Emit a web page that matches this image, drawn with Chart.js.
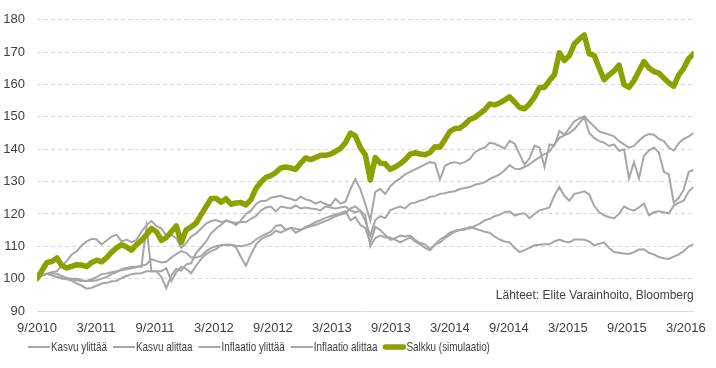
<!DOCTYPE html>
<html>
<head>
<meta charset="utf-8">
<script src="https://cdn.jsdelivr.net/npm/chart.js@4/dist/chart.umd.min.js"></script>
<style>
  html, body { margin: 0; padding: 0; background: #fff; }
</style>
</head>
<body>
<canvas id="myChart" width="716" height="368"></canvas>
<script>
// samples are about 2.2 weeks apart, x is in months from 9/2010
const STEP = 0.506;

const tickMonths = [0, 6, 12, 18, 24, 30, 36, 42, 48, 54, 60, 66];
const tickLabels = ['9/2010', '3/2011', '9/2011', '3/2012', '9/2012', '3/2013',
    '9/2013', '3/2014', '9/2014', '3/2015', '9/2015', '3/2016'];

const seriesNames = ['Kasvu ylittää', 'Kasvu alittaa', 'Inflaatio ylittää', 'Inflaatio alittaa', 'Salkku (simulaatio)'];

const kasvuYlittaa = [
    100, 101, 101.5, 102, 102.3, 104, 105.5, 107.5, 108.5, 110.3,
    111.5, 112.3, 112.1, 110.6, 111.8, 113, 113.6, 111.5, 112.1, 111.2,
    112, 114.5, 116.5, 117.8, 116.3, 115.5, 113.3, 113.5, 112.5, 109.5,
    111, 113, 114, 115.5, 117, 117.8, 118.1, 117.5, 117.8, 117.5,
    116.6, 118, 120, 121, 123, 124, 124, 125, 125.3, 125.6,
    125, 124.7, 124.1, 125.3, 124.5, 124.1, 123.2, 123.8, 123, 122.6,
    124.7, 123.2, 123.8, 127.7, 130.7, 127.7, 123, 118, 126.8, 127.7,
    126.2, 128.5, 130, 131, 132.2, 133, 133.8, 134.5, 135.3, 136,
    135.7, 130.7, 134.8, 135.7, 136, 135.5, 136, 137, 139, 140,
    140.5, 142, 141.7, 141, 140.2, 142.6, 141.7, 138.5, 135.3, 137.2,
    141.1, 140.5, 134.5, 141.5, 141.1, 145.6, 144.5, 146.5, 148.6, 149.5,
    150.1, 148.5, 147, 145.5, 145, 144.5, 144, 142.5, 141.5, 140.5,
    141, 142.6, 144, 144.7, 144.5, 143.2, 142.5, 140.5, 139.6, 141.9,
    143.2, 144, 145
];

const kasvuAlittaa = [
    100, 101, 101.5, 101.7, 101.5, 100.8, 100.2, 100, 100, 99.5,
    99.3, 99.3, 99.5, 100, 100.5, 101.4, 102, 102.9, 103.3, 103.7,
    103.7, 103.7, 116, 102.3, 102.3, 100.5, 97, 101, 103, 102.5,
    104.4, 104.8, 108, 109.7, 111.5, 114, 115.5, 116.6, 118, 117.5,
    117.2, 117.5, 117.5, 118.5, 119.3, 121, 122, 122.3, 120.8, 122.3,
    122, 121.7, 122.6, 121.7, 122, 121.7, 121.5, 121.1, 122.3, 122,
    121.7, 122, 122.3, 121.1, 120.5, 121, 117.8, 113.3, 118.1, 119.3,
    118.7, 121.1, 121.8, 122.3, 121.7, 123.2, 123.5, 124.1, 124.5, 125.3,
    125.5, 126.2, 126.4, 126.8, 127, 127.7, 128, 128.3, 129, 129.3,
    129.8, 130.8, 131.5, 132.2, 133.5, 135.1, 134, 133.8, 134.5, 135.3,
    136.5, 137.5, 138.5, 139.2, 141.5, 143.5, 144.3, 145, 146.2, 148,
    150, 145, 143.5, 142.5, 142, 141, 141.5, 139.5, 140, 131,
    136, 131, 138, 139.6, 140.5, 139, 133, 132.2, 123.5, 125,
    127.5, 133, 133.6
];

const inflaatioYlittaa = [
    100, 101, 101.5, 101, 100.5, 100, 100, 99.7, 99.5, 99.3,
    99.3, 99.8, 100.5, 101.4, 101.6, 102, 102.3, 102.6, 102.9, 103.2,
    103.5, 104, 104.4, 106, 105.5, 105, 105.2, 106.5, 107.6, 108.5,
    108, 106.5, 106.5, 107, 108.5, 109.5, 110, 110.3, 110.5, 110.5,
    110.2, 110, 110.3, 110.8, 112.1, 113, 113.8, 114.5, 116.3, 116.6,
    115.1, 115.7, 115.4, 115.1, 116, 116.6, 117.5, 118.1, 118.8, 119.3,
    119.8, 120.2, 120.8, 118, 119, 116.6, 115.7, 111, 116, 115,
    113.5, 112, 112.5, 113.3, 113, 113.3, 112, 111, 110.6, 109.1,
    110.5, 112.1, 113, 114.2, 114.8, 115.1, 115.5, 115.5, 116.3, 117,
    118, 118.5, 119.3, 119.8, 120.5, 120.8, 119.5, 120, 120.2, 118.7,
    120, 121.1, 121.5, 122, 125.6, 128.3, 125.6, 124.1, 126.2, 126.5,
    127, 126, 122.5, 120.5, 119.6, 119, 118.7, 120, 122.3, 121.5,
    121, 122, 123.2, 119.6, 120.5, 120.8, 120.5, 120.2, 122.6, 123.5,
    124.1, 127, 128.3
];

const inflaatioAlittaa = [
    100, 101.2, 101.5, 101, 100.5, 100.2, 99.8, 99.3, 98.5, 97.8,
    96.9, 97.2, 97.8, 98.5, 98.7, 99.2, 99.3, 100.2, 100.8, 101.4,
    101.6, 101.7, 102.3, 102.3, 102.3, 102.3, 103.2, 99.3, 102, 103.7,
    103, 101.7, 104, 106.1, 107.6, 108.5, 109.1, 110.3, 110.5, 110.5,
    109.7, 106.7, 104, 107.5, 110.5, 112.1, 113, 113.5, 114.8, 114.2,
    115, 115.7, 114.2, 115, 115.7, 116.2, 116.6, 117.2, 117.8, 118.5,
    119.3, 119.8, 120.2, 121.7, 122.3, 121, 119.6, 110, 112.5, 113.3,
    112.7, 112.7, 112, 111.2, 112, 112.7, 111.5, 110.6, 109.5, 108.8,
    110.5, 111.2, 112.5, 113.6, 114.5, 115, 115.1, 116, 115.5, 115,
    114.5, 114.2, 113, 112.1, 111.5, 111.2, 109.5, 108.2, 108.8, 109.5,
    110.3, 110.5, 110.6, 110.6, 111.5, 112.1, 111.5, 111.2, 112.1, 112.1,
    112, 111.5, 110.3, 110.8, 111.2, 109.5, 108.2, 108, 107.8, 107.6,
    108.2, 109, 109.1, 108, 107.5, 106.7, 106.3, 106.1, 106.8, 107.5,
    108.5, 110, 110.6
];

const salkku = [
    100, 102.5, 105, 105.3, 106.4, 104, 103.3, 103.8, 104.3, 104.2,
    103.7, 105, 105.7, 105.2, 106.5, 108.2, 109.5, 110.5, 109.8, 108.8,
    110.5, 111.8, 113.5, 115.5, 114.5, 111.8, 112.7, 114.5, 116.3, 111.2,
    115.1, 116, 117.2, 119.8, 122.3, 124.8, 124.8, 123.6, 124.7, 123,
    123.4, 123.5, 122.8, 124.4, 127.8, 129.8, 131.3, 131.8, 132.8, 134.2,
    134.5, 134.2, 133.8, 135.7, 137.3, 136.8, 137.4, 138.1, 138.1, 138.5,
    139.3, 140.2, 142, 145, 144.1, 140.5, 138.3, 130.5, 137.4, 135.7,
    135.5, 133.8, 134.5, 135.5, 136.8, 138.5, 138.9, 138.5, 138.3, 139,
    140.8, 140.6, 143, 145.5, 146.4, 146.5, 147.7, 149.2, 149.8, 151,
    152.2, 154, 153.7, 154.3, 155.2, 156.2, 154.6, 152.9, 152.5, 154,
    156.1, 159.1, 159.1, 161.2, 163, 169.8, 167.4, 168.9, 172.5, 174,
    175.3, 169.5, 169, 165.1, 161.5, 163, 164.2, 166, 160, 159.1,
    161.2, 164.2, 167.1, 165.1, 164, 163.5, 162, 160.5, 159.5, 163,
    165, 168, 169.5
];

const sourceText = 'Lähteet: Elite Varainhoito, Bloomberg';

const grey = '#a6a6a6';
const green = '#8ca000';
const textColor = '#404040';
const baseFont = '"Liberation Sans", Arial, sans-serif';

function toPoints(values) {
    return values.map((v, i) => ({ x: i * STEP, y: v }));
}

function greyLine(label, values) {
    return {
        label: label,
        data: toPoints(values),
        borderColor: grey,
        backgroundColor: grey,
        borderWidth: 2,
        pointRadius: 0,
        tension: 0,
        order: 1
    };
}

// source note inside the plot, bottom right
const sourceNote = {
    id: 'sourceNote',
    afterDatasetsDraw(chart) {
        const ctx = chart.ctx;
        ctx.save();
        ctx.font = '12px ' + baseFont;
        ctx.fillStyle = textColor;
        ctx.textAlign = 'right';
        ctx.textBaseline = 'middle';
        ctx.fillText(sourceText, chart.chartArea.right, chart.scales.y.getPixelForValue(94.6));
        ctx.restore();
    }
};

// legend with a narrow face, like the original
const narrowLegend = {
    id: 'narrowLegend',
    afterDraw(chart) {
        const ctx = chart.ctx;
        const y = chart.chartArea.bottom + 36;
        let x = 28;
        ctx.save();
        ctx.font = '13px ' + baseFont;
        ctx.fillStyle = textColor;
        ctx.textBaseline = 'middle';
        chart.data.datasets.forEach(ds => {
            const thick = ds.borderWidth > 2;
            ctx.strokeStyle = ds.borderColor;
            ctx.lineWidth = ds.borderWidth;
            ctx.lineCap = thick ? 'round' : 'butt';
            ctx.beginPath();
            ctx.moveTo(x + (thick ? 2 : 0), y);
            ctx.lineTo(x + (thick ? 20 : 22), y);
            ctx.stroke();
            x += 23;
            const w = ctx.measureText(ds.label).width * 0.76;
            ctx.save();
            ctx.translate(x, y);
            ctx.scale(0.76, 1);
            ctx.fillText(ds.label, 0, 0);
            ctx.restore();
            x += w + 6;
        });
        ctx.restore();
    }
};

Chart.defaults.font.family = baseFont;
Chart.defaults.color = textColor;

const ctx = document.getElementById('myChart');
const myChart = new Chart(ctx, {
    type: 'line',
    data: {
        datasets: [
            greyLine(seriesNames[0], kasvuYlittaa),
            greyLine(seriesNames[1], kasvuAlittaa),
            greyLine(seriesNames[2], inflaatioYlittaa),
            greyLine(seriesNames[3], inflaatioAlittaa),
            {
                label: seriesNames[4],
                data: toPoints(salkku),
                borderColor: green,
                backgroundColor: green,
                borderWidth: 5.5,
                borderJoinStyle: 'round',
                borderCapStyle: 'round',
                pointRadius: 0,
                tension: 0,
                order: 0
            }
        ]
    },
    options: {
        responsive: false,
        animation: false,
        layout: { padding: { left: 0, right: 19, top: 10, bottom: 31 } },
        plugins: {
            tooltip: { enabled: false },
            legend: { display: false }
        },
        scales: {
            x: {
                type: 'linear',
                min: 0,
                max: (salkku.length - 1) * STEP,
                afterFit: (scale) => { scale.height = 26; },
                afterBuildTicks: (scale) => {
                    scale.ticks = tickMonths.map(v => ({ value: v }));
                },
                grid: { display: false, drawTicks: false },
                border: { display: true, color: '#d9d9d9', width: 1 },
                ticks: {
                    autoSkip: false,
                    maxRotation: 0,
                    padding: 10,
                    font: { size: 13 },
                    callback: (value) => tickLabels[tickMonths.indexOf(value)]
                }
            },
            y: {
                min: 90,
                max: 180,
                afterFit: (scale) => { scale.width = 37; },
                grid: { color: '#d9d9d9', drawTicks: false },
                border: { display: false, dash: [4, 3] },
                ticks: {
                    stepSize: 10,
                    padding: 12,
                    font: { size: 13 }
                }
            }
        }
    },
    plugins: [sourceNote, narrowLegend]
});
</script>
</body>
</html>
